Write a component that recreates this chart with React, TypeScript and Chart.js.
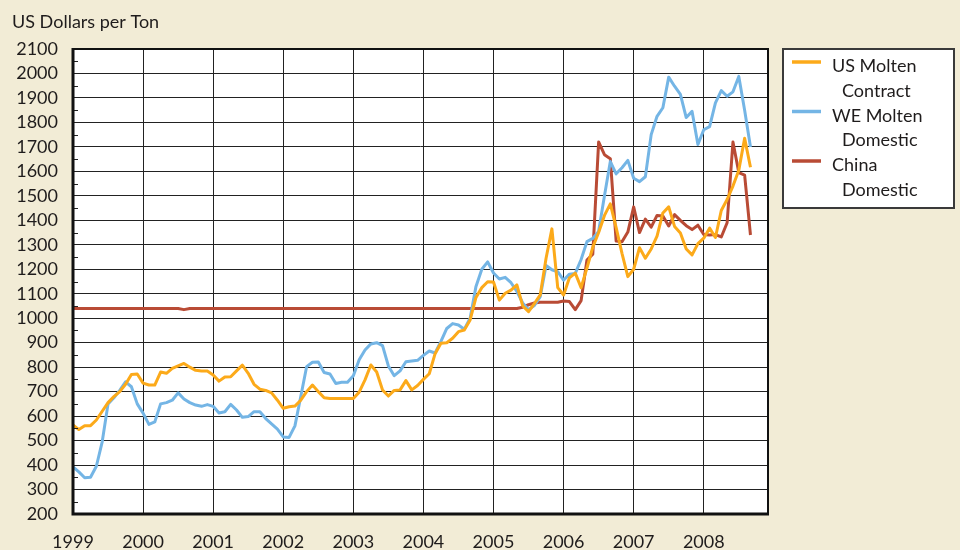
import React, { useEffect, useRef } from 'react';
import { Chart, registerables } from 'chart.js';

Chart.register(...registerables);

// ---------- data ----------
const YEARS = ['1999', '2000', '2001', '2002', '2003', '2004', '2005', '2006', '2007', '2008'];
const MONTHS = ['01', '02', '03', '04', '05', '06', '07', '08', '09', '10', '11', '12'];
const CATEGORIES = YEARS.flatMap((y) => MONTHS.map((m) => `${y}-${m}`));

const US_MOLTEN_CONTRACT = [
  564, 545, 561, 561, 584, 620, 655, 680, 700, 730, 770, 772,
  735, 727, 727, 780, 775, 795, 805, 815, 800, 787, 784, 784,
  768, 743, 760, 761, 785, 808, 775, 730, 710, 705, 695, 665,
  632, 638, 641, 665, 700, 727, 700, 675, 672, 672, 672, 672,
  672, 698, 748, 809, 780, 707, 682, 705, 707, 745, 707, 725,
  750, 773, 855, 898, 900, 918, 945, 952, 993, 1085, 1125, 1149,
  1148, 1074, 1102, 1115, 1136, 1050, 1027, 1060, 1095, 1245, 1365, 1125,
  1095, 1165, 1184, 1125, 1205, 1290, 1350, 1420, 1467, 1370, 1265, 1170,
  1200, 1288, 1245, 1283, 1335, 1430, 1455, 1375, 1348, 1283, 1259, 1305,
  1327, 1368, 1330, 1440, 1485, 1540, 1605, 1735, 1617,
];

const WE_MOLTEN_DOMESTIC = [
  393, 372, 348, 350, 395, 495, 650, 675, 705, 740, 720, 650,
  612, 566, 576, 650, 655, 665, 695, 670, 655, 645, 640, 647,
  640, 613, 618, 648, 625, 595, 598, 618, 618, 590, 568, 547,
  515, 513, 560, 680, 802, 820, 821, 778, 772, 733, 738, 738,
  765, 830, 870, 895, 900, 888, 805, 765, 785, 822, 825, 828,
  848, 866, 858, 905, 958, 978, 972, 955, 1000, 1130, 1200, 1230,
  1185, 1160, 1167, 1145, 1110, 1062, 1035, 1052, 1088, 1215, 1198, 1190,
  1155, 1180, 1183, 1240, 1313, 1326, 1355, 1500, 1640, 1590, 1615, 1645,
  1572, 1558, 1578, 1750, 1825, 1860, 1985, 1948, 1915, 1820, 1845, 1710,
  1770, 1783, 1880, 1930, 1907, 1925, 1988, 1850, 1700,
];

const CHINA_DOMESTIC = [
  1040, 1040, 1040, 1040, 1040, 1040, 1040, 1040, 1040, 1040, 1040, 1040,
  1040, 1040, 1040, 1040, 1040, 1040, 1040, 1035, 1040, 1040, 1040, 1040,
  1040, 1040, 1040, 1040, 1040, 1040, 1040, 1040, 1040, 1040, 1040, 1040,
  1040, 1040, 1040, 1040, 1040, 1040, 1040, 1040, 1040, 1040, 1040, 1040,
  1040, 1040, 1040, 1040, 1040, 1040, 1040, 1040, 1040, 1040, 1040, 1040,
  1040, 1040, 1040, 1040, 1040, 1040, 1040, 1040, 1040, 1040, 1040, 1040,
  1040, 1040, 1040, 1040, 1040, 1045, 1055, 1062, 1065, 1065, 1065, 1065,
  1070, 1068, 1035, 1072, 1238, 1262, 1720, 1668, 1652, 1315, 1312, 1352,
  1455, 1350, 1405, 1372, 1420, 1418, 1377, 1423, 1400, 1378, 1362, 1380,
  1342, 1340, 1342, 1332, 1390, 1720, 1595, 1585, 1340,
];

const SERIES = [US_MOLTEN_CONTRACT, WE_MOLTEN_DOMESTIC, CHINA_DOMESTIC];
const LEGEND_LINES = [
  ['US Molten', 'Contract'],
  ['WE Molten', 'Domestic'],
  ['China', 'Domestic'],
];
const COLORS = ['#FCAA1A', '#74B5E5', '#B94B35'];
const TITLE = 'US Dollars per Ton';
const Y_MIN = 200;
const Y_MAX = 2100;
const Y_STEP = 100;
const MINOR_TICKS = [250, 350, 450, 550, 650, 750, 850, 950, 1050, 1150, 1250, 1350, 1450, 1550, 1650, 1750, 1850, 1950, 2050];

// ---------- style ----------
const BG = '#F2ECD6';
const TEXT = '#1f1c1c';
const FONT = 'Lato, "DejaVu Sans", sans-serif';
const W = 960;
const H = 560;

const decorPlugin = {
  id: 'decor',
  beforeDraw(chart: any) {
    const { ctx, chartArea: a, width, height } = chart;
    ctx.save();
    ctx.fillStyle = BG;
    ctx.fillRect(0, 0, width, height);
    ctx.fillStyle = '#ffffff';
    ctx.fillRect(a.left, a.top, a.right - a.left, a.bottom - a.top);
    ctx.restore();
  },
  afterDatasetsDraw(chart: any) {
    const { ctx, chartArea: a } = chart;
    const ys = chart.scales.y;
    ctx.save();
    // minor ticks
    ctx.strokeStyle = '#222';
    ctx.lineWidth = 1;
    for (const v of MINOR_TICKS) {
      const py = Math.round(ys.getPixelForValue(v)) + 0.5;
      ctx.beginPath();
      ctx.moveTo(a.left, py);
      ctx.lineTo(a.left + 5, py);
      ctx.stroke();
    }
    // frame
    ctx.strokeStyle = '#111';
    ctx.lineWidth = 2;
    ctx.beginPath();
    ctx.moveTo(a.left, a.top);
    ctx.lineTo(a.right, a.top);
    ctx.lineTo(a.right, a.bottom);
    ctx.stroke();
    ctx.lineWidth = 3;
    ctx.beginPath();
    ctx.moveTo(a.left, a.top - 1);
    ctx.lineTo(a.left, a.bottom);
    ctx.lineTo(a.right + 1, a.bottom);
    ctx.stroke();
    ctx.restore();
  },
  afterDraw(chart: any) {
    const { ctx } = chart;
    ctx.save();
    ctx.fillStyle = TEXT;
    ctx.font = `18px ${FONT}`;
    ctx.textAlign = 'left';
    ctx.textBaseline = 'alphabetic';
    ctx.fillText(TITLE, 12, 28);

    // legend box
    ctx.fillStyle = '#ffffff';
    ctx.fillRect(783, 49, 171, 159);
    ctx.strokeStyle = '#3a3a3a';
    ctx.lineWidth = 2;
    ctx.strokeRect(783, 49, 171, 159);

    LEGEND_LINES.forEach((lines, i) => {
      const base = 72 + i * 49.5;
      ctx.strokeStyle = COLORS[i];
      ctx.lineWidth = 3.5;
      ctx.beginPath();
      ctx.moveTo(792, base - 10);
      ctx.lineTo(821, base - 10);
      ctx.stroke();
      ctx.fillStyle = TEXT;
      ctx.fillText(lines[0], 832, base);
      ctx.fillText(lines[1], 842, base + 24.8);
    });
    ctx.restore();
  },
};

export default function App() {
  const ref = useRef<HTMLCanvasElement | null>(null);

  useEffect(() => {
    const canvas = ref.current;
    if (!canvas) return;
    const chart = new Chart(canvas, {
      type: 'line',
      data: {
        labels: CATEGORIES,
        datasets: SERIES.map((data, i) => ({
          label: LEGEND_LINES[i].join(' '),
          data,
          borderColor: COLORS[i],
          backgroundColor: COLORS[i],
          borderWidth: 3,
          pointRadius: 0,
          tension: 0,
          fill: false,
          borderJoinStyle: 'round' as const,
        })),
      },
      options: {
        responsive: false,
        animation: false,
        devicePixelRatio: 1,
        layout: { padding: { top: 49, right: W - 768, left: 0, bottom: 0 } },
        plugins: {
          legend: { display: false },
          title: { display: false },
          tooltip: { enabled: false },
        },
        scales: {
          x: {
            type: 'category',
            offset: false,
            border: { display: false },
            grid: {
              drawTicks: false,
              color: (c: any) => (c.index % 12 === 0 ? '#222' : 'rgba(0,0,0,0)'),
              lineWidth: 1,
            },
            ticks: {
              autoSkip: false,
              maxRotation: 0,
              minRotation: 0,
              padding: 17,
              color: TEXT,
              font: { family: FONT, size: 18 },
              callback: (_v: any, index: number) => (index % 12 === 0 ? YEARS[index / 12] : ''),
            },
            afterFit: (scale: any) => {
              scale.height = H - 514;
            },
          },
          y: {
            type: 'linear',
            min: Y_MIN,
            max: Y_MAX,
            border: { display: false },
            grid: { drawTicks: false, color: '#222', lineWidth: 1 },
            ticks: {
              stepSize: Y_STEP,
              autoSkip: false,
              maxTicksLimit: 40,
              padding: 15,
              color: TEXT,
              font: { family: FONT, size: 18, lineHeight: 1 },
              callback: (v: any) => String(v),
            },
            afterFit: (scale: any) => {
              scale.width = 73;
            },
          },
        },
      },
      plugins: [decorPlugin],
    });
    return () => chart.destroy();
  }, []);

  return (
    <div
      style={{
        position: 'fixed',
        left: 0,
        top: 0,
        width: W,
        height: 550,
        overflow: 'hidden',
        background: BG,
      }}
    >
      <canvas ref={ref} width={W} height={H} style={{ display: 'block', width: W, height: H }} />
    </div>
  );
}
